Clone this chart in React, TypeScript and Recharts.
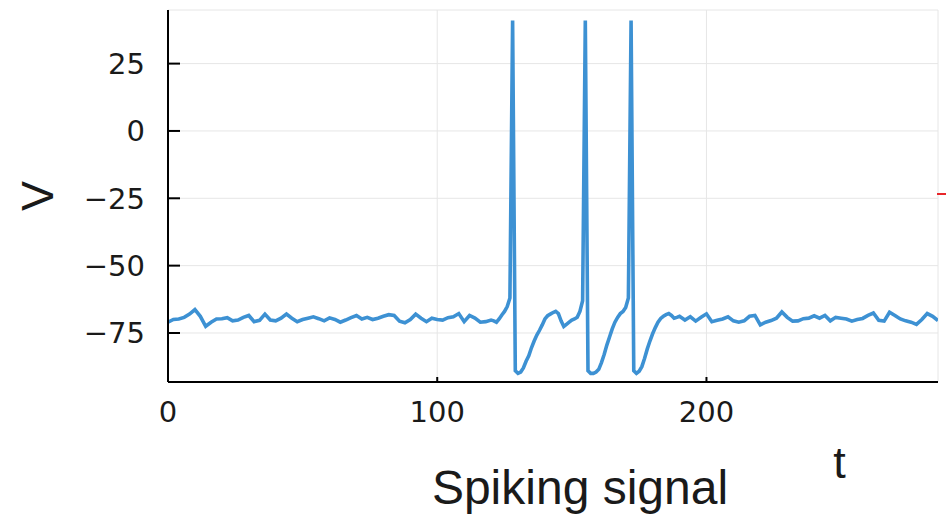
import React from 'react';
import { LineChart, Line, XAxis, YAxis, CartesianGrid, Label } from 'recharts';

// membrane potential
// resting part before the burst, t = 0..120 every 2
const restBefore = [
  -71, -70, -69.8, -69.2, -68, -66.3, -68.8, -72.5, -71, -69.8,
  -69.7, -69.3, -70.5, -70.2, -69.2, -68.5, -70.8, -70.3, -68, -70.2,
  -70.5, -69.5, -68, -69.5, -70.8, -70, -69.5, -69, -69.7, -70.5,
  -69.4, -70, -71, -70.2, -69.3, -68.5, -69.8, -69.2, -70, -69.5,
  -68.8, -68.2, -68.5, -70.6, -71.2, -70, -68, -69.5, -70.8, -69.5,
  -70, -70.2, -69.3, -69, -67.8, -70.8, -68.5, -69.5, -71, -70.8,
  -70.2,
];

// three spikes, t = 121..190 every 1
const burst = [
  -70.5, -71, -69.8, -68.3, -67, -65.2, -62, 41, -89, -90,
  -89.5, -88, -85.5, -83.5, -80.5, -78, -75.8, -74, -72, -69.8,
  -68.6, -68, -67.4, -67, -67.8, -70.5, -72.6, -71.8, -71, -70.2,
  -69.8, -69.2, -67, -63, 41, -89, -90, -90, -89.5, -88.5,
  -86, -83, -79.5, -76.5, -73.5, -71, -69.2, -67.8, -67, -65.5,
  -62, 41, -89, -90, -89.2, -87.5, -84.5, -81, -78, -75.3,
  -73, -71, -69.6, -68.8, -68.2, -67.8, -68.5, -69.5, -69.2, -68.8,
];

// resting part after the burst, t = 192..286 every 2
const restAfter = [
  -70.2, -69, -70.6, -69.2, -67.9, -70.8, -70.3, -69.8, -69, -70.5,
  -71, -70.5, -68.8, -68.5, -72, -71, -70.4, -69.5, -67.2, -69.2,
  -70.6, -70.5, -69.7, -69.5, -68.6, -69.5, -68.5, -70.5, -69.2, -69.5,
  -69.8, -70.6, -70, -69.6, -68.5, -67.6, -70.3, -70.6, -67.3, -68.5,
  -69.8, -70.5, -71, -71.8, -70, -67.8, -68.8, -70.4,
];

const xTicks = [0, 100, 200];
const yTicks = [-75, -50, -25, 0, 25];

const data = [
  ...restBefore.map((v, i) => ({ t: i * 2, v })),
  ...burst.map((v, i) => ({ t: 121 + i, v })),
  ...restAfter.map((v, i) => ({ t: 192 + i * 2, v })),
];

const Y_GAP = 23;
const X_GAP = 19;
const tickFont = '"DejaVu Sans", sans-serif';
const labelFont = '"Liberation Sans", Arial, sans-serif';

const fmt = (n: number) => (n < 0 ? `\u2212${Math.abs(n)}` : `${n}`);

// Julia-style ticks: the tick marks point into the plot
const YTick = ({ x, y, payload }: any) => (
  <g>
    <line x1={x + Y_GAP} x2={x + Y_GAP + 12} y1={y} y2={y} stroke="#000" strokeWidth={2} />
    <text x={x} y={y} dy="0.36em" textAnchor="end" fontSize={29} fill="#1a1a1a" fontFamily={tickFont}>
      {fmt(payload.value)}
    </text>
  </g>
);

const XTick = ({ x, y, payload }: any) => (
  <g>
    <line x1={x} x2={x} y1={y - X_GAP} y2={y - X_GAP - 5} stroke="#000" strokeWidth={2} />
    <text x={x} y={y} dy="0.71em" textAnchor="middle" fontSize={29} fill="#1a1a1a" fontFamily={tickFont}>
      {fmt(payload.value)}
    </text>
  </g>
);

const App = () => (
  <div style={{ position: 'absolute', left: 0, top: 0, width: 947, height: 517, background: '#fff' }}>
    <LineChart width={947} height={517} data={data} margin={{ top: 10, right: 9, bottom: 0, left: 0 }}>
      <CartesianGrid stroke="#e6e6e6" strokeWidth={1} />
      <XAxis
        dataKey="t"
        type="number"
        domain={[0, 286]}
        ticks={xTicks}
        allowDataOverflow
        height={135}
        tickSize={0}
        tickMargin={X_GAP}
        tickLine={false}
        axisLine={{ stroke: '#000', strokeWidth: 2 }}
        tick={<XTick />}
      >
        <Label
          content={({ viewBox }: any) => (
            <text
              x={viewBox.x + viewBox.width * 0.872}
              y={viewBox.y + 96}
              textAnchor="middle"
              fontSize={45}
              fill="#1a1a1a"
              fontFamily={labelFont}
            >
              t
            </text>
          )}
        />
      </XAxis>
      <YAxis
        type="number"
        domain={[-93.2, 44.9]}
        ticks={yTicks}
        allowDataOverflow
        width={168}
        tickSize={0}
        tickMargin={Y_GAP}
        tickLine={false}
        axisLine={{ stroke: '#000', strokeWidth: 2 }}
        tick={<YTick />}
      >
        <Label
          content={({ viewBox }: any) => {
            const cx = viewBox.x + 37;
            const cy = viewBox.y + viewBox.height / 2;
            return (
              <text
                x={cx}
                y={cy}
                transform={`rotate(-90 ${cx} ${cy})`}
                textAnchor="middle"
                dominantBaseline="central"
                fontSize={45}
                fill="#1a1a1a"
                fontFamily={labelFont}
              >
                V
              </text>
            );
          }}
        />
      </YAxis>
      <Line type="linear" dataKey="v" stroke="#3d91d3" strokeWidth={3.6} dot={false} isAnimationActive={false} />
    </LineChart>
    <div
      style={{
        position: 'absolute',
        left: 0,
        width: 1160,
        top: 464,
        textAlign: 'center',
        fontFamily: labelFont,
        fontSize: 48,
        lineHeight: '48px',
        color: '#1a1a1a',
      }}
    >
      Spiking signal
    </div>
    <div style={{ position: 'absolute', left: 937, top: 193, width: 9, height: 2, background: '#e8262a' }} />
  </div>
);

export default App;
